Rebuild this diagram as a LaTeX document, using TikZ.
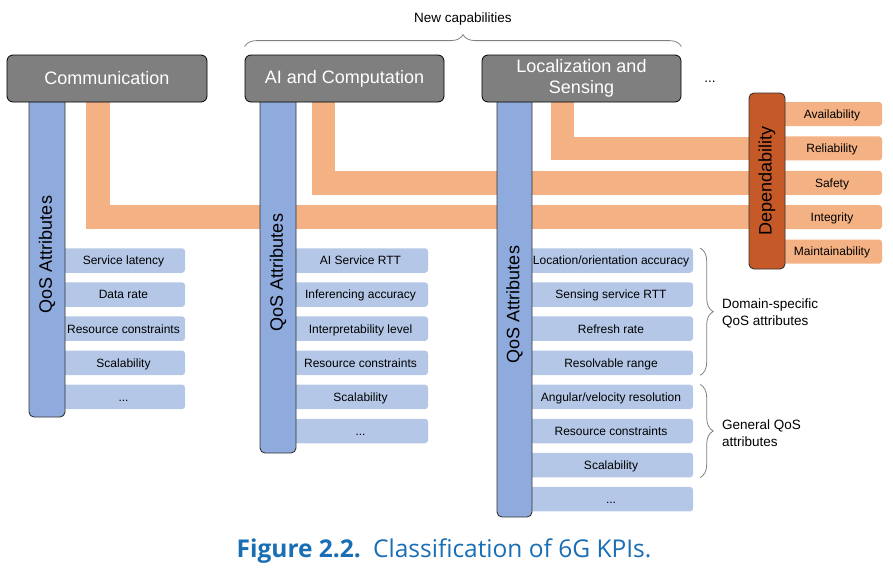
\documentclass[tikz,border=0pt]{standalone}
\usepackage{fontspec}
\setmainfont{Liberation Sans}
\newfontfamily\capfont{Open Sans}
\usetikzlibrary{decorations.pathreplacing,backgrounds}
\definecolor{hdrgray}{HTML}{7F7F7F}
\definecolor{barblue}{HTML}{8FAADC}
\definecolor{itemblue}{HTML}{B4C7E7}
\definecolor{orng}{HTML}{F4B183}
\definecolor{depor}{HTML}{C55A28}
\definecolor{capblue}{RGB}{25,110,180}
\newcommand{\tdots}{.\kern0pt.\kern0pt.}
\begin{document}
\begin{tikzpicture}[x=1pt,y=-1pt,
  hdr/.style={draw=black, line width=0.8pt, fill=hdrgray, rounded corners=6pt,
    minimum width=200pt, minimum height=47pt, inner sep=0pt, text=white,
    font=\fontsize{18}{21}\selectfont, align=center},
  qosbar/.style={draw=black!80, line width=0.9pt, fill=barblue, rounded corners=5pt,
    minimum height=36pt, inner sep=0pt, rotate=90, font=\fontsize{18}{21}\selectfont},
  item/.style={fill=itemblue, rounded corners=3pt, minimum height=24.5pt,
    inner sep=0pt, text height=8.6pt, text depth=0pt, font=\fontsize{12}{14}\selectfont},
  ritem/.style={fill=orng, rounded corners=3pt, minimum height=24pt, minimum width=100pt,
    inner sep=0pt, text height=8.6pt, text depth=0pt, font=\fontsize{12}{14}\selectfont},
  depbox/.style={draw=black!80, line width=0.9pt, fill=depor, rounded corners=5pt,
    minimum width=176pt, minimum height=36pt, inner sep=0pt, rotate=90,
    font=\fontsize{18}{21}\selectfont},
  orangeline/.style={draw=orng, line width=23.5pt, line join=miter},
  bracestyle/.style={draw=black!50, line width=0.8pt, decorate},
  lbl/.style={font=\fontsize{13.5}{16.5}\selectfont, inner sep=0pt, align=left}
]
\useasboundingbox (0,0) rectangle (893,570);

% items: Communication
\foreach \t [count=\i from 0] in {Service latency,Data rate,Resource constraints,Scalability,\tdots}
  \node[item, minimum width=123pt] (c\i) at (123.5,260.5+34.1*\i) {\t};
% items: AI
\foreach \t [count=\i from 0] in {AI Service RTT,Inferencing accuracy,Interpretability level,Resource constraints,Scalability,\tdots}
  \node[item, minimum width=135pt] (a\i) at (360.5,260.5+34.1*\i) {\t};
% items: Localization
\foreach \t [count=\i from 0] in {Location/orientation accuracy,Sensing service RTT,Refresh rate,Resolvable range,Angular/velocity resolution,Resource constraints,Scalability,\tdots}
  \node[item, minimum width=164pt] (l\i) at (611,260.5+34.1*\i) {\t};

% QoS bars
\node[qosbar, minimum width=325pt] (cbar) at (47,254.5) {QoS Attributes};
\node[qosbar, minimum width=361pt] (abar) at (278,272.5) {QoS Attributes};
\node[qosbar, minimum width=425pt, minimum height=35pt] (lbar) at (514.5,304.5) {QoS Attributes};

% headers
\node[hdr] (comm) at (107,78.5) {Communication};
\node[hdr, minimum width=199pt] (ai) at (344.5,78.5) {AI and Computation};
\node[hdr, minimum width=199pt] (loc) at (581.5,78.5) {Localization and\\Sensing};
\node[lbl] (more) at (710,82) {\tdots};

% dependability
\node[ritem] (ravail) at (832,114) {Availability};
\node[ritem] (rrel) at (832,148.4) {Reliability};
\node[ritem] (rsaf) at (832,182.8) {Safety};
\node[ritem] (rint) at (832,217.2) {Integrity};
\node[ritem] (rmain) at (832,251.6) {Maintainability};
\node[depbox] (dep) at (767,181) {Dependability};

% orange links
\begin{pgfonlayer}{background}
\draw[orangeline] ([xshift=-9pt]comm.south) |- (dep.west |- rint.center);
\draw[orangeline] ([xshift=-21pt]ai.south) |- (dep.west |- rsaf.center);
\draw[orangeline] ([xshift=-19pt]loc.south) |- (dep.west |- rrel.center);
\end{pgfonlayer}

% braces
\draw[bracestyle, decoration={brace, amplitude=12pt}] ([yshift=8pt]ai.north west) -- ([yshift=8pt]loc.north east);
\node[lbl] (newcap) at (463,19) {New capabilities};
\draw[bracestyle, decoration={brace, amplitude=13pt}] ([xshift=7pt]l0.north east) -- ([xshift=7pt]l3.south east);
\node[lbl, anchor=west] (dom) at (722,313.5) {Domain-specific\\QoS attributes};
\draw[bracestyle, decoration={brace, amplitude=13pt}] ([xshift=7pt]l4.north east) -- ([xshift=7pt]l6.south east);
\node[lbl, anchor=west] (gen) at (722,433) {General QoS\\attributes};

% caption
\node[font=\capfont\fontsize{24.5}{28}\selectfont, text=capblue, inner sep=0pt] (cap) at (444,551)
  {\textbf{Figure 2.2.}\hspace{0.5em}Classification of 6G KPIs.};
\end{tikzpicture}
\end{document}
